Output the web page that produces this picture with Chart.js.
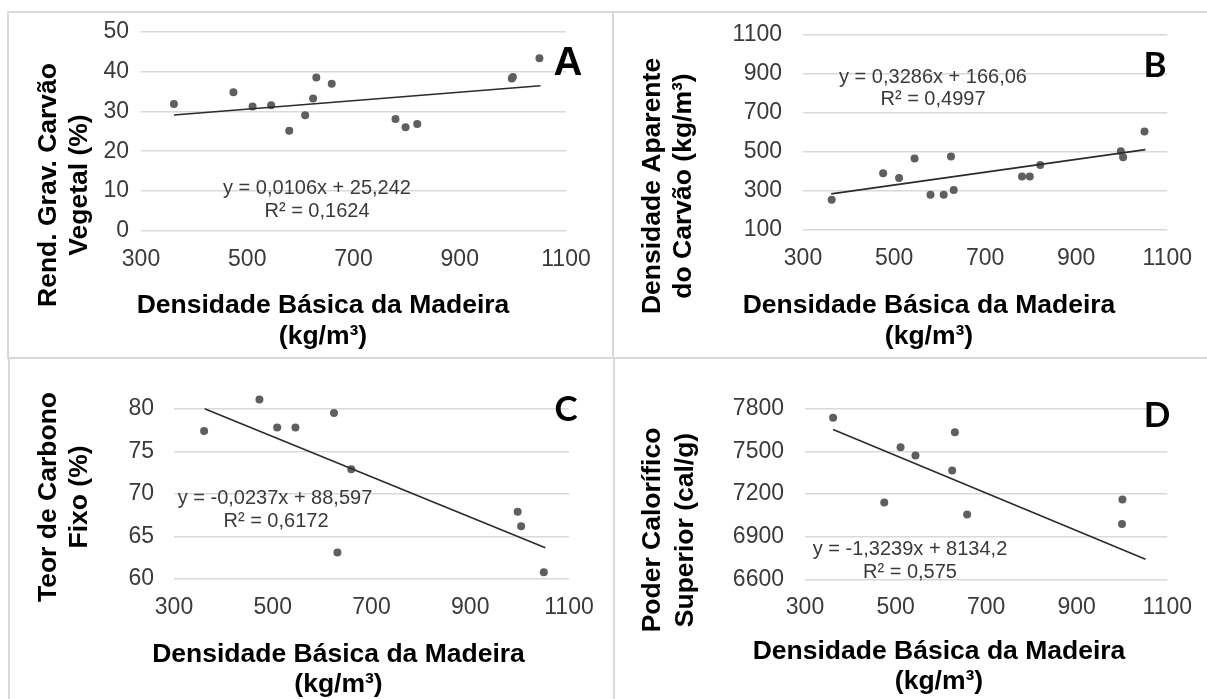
<!DOCTYPE html>
<html>
<head>
<meta charset="utf-8">
<script src="https://cdn.jsdelivr.net/npm/chart.js@4.4.1/dist/chart.umd.min.js"></script>
<style>
  html, body { margin: 0; padding: 0; background: #fff; }
  #page { position: relative; width: 1207px; height: 699px; overflow: hidden; background: #fff; }
  #page canvas { position: absolute; }
  .rule { position: absolute; background: #d9d9d9; }
</style>
</head>
<body>
<div id="page">
  <canvas id="cA" width="612" height="358" style="left:0;top:0"></canvas>
  <canvas id="cB" width="595" height="358" style="left:612px;top:0"></canvas>
  <canvas id="cC" width="612" height="341" style="left:0;top:358px"></canvas>
  <canvas id="cD" width="595" height="341" style="left:612px;top:358px"></canvas>
  <div class="rule" style="left:7px;top:11px;width:1200px;height:2px"></div>
  <div class="rule" style="left:7px;top:11px;width:2px;height:347px"></div>
  <div class="rule" style="left:7px;top:357px;width:1200px;height:2px"></div>
  <div class="rule" style="left:8px;top:358px;width:2px;height:341px"></div>
  <div class="rule" style="left:612px;top:11px;width:2px;height:347px"></div>
  <div class="rule" style="left:613px;top:358px;width:2px;height:341px"></div>
</div>
<script>
// Densidade básica da madeira (kg/m³) and the property measured on each sample
const densA = [362, 474, 510, 545, 579, 609, 624, 630, 659, 779, 798, 820, 998, 1000, 1050];
const rendA = [31.8, 34.8, 31.2, 31.5, 25.1, 29.0, 33.2, 38.5, 36.9, 28.1, 26.0, 26.8, 38.2, 38.6, 43.3];

const densB = [363, 476, 511, 545, 580, 609, 625, 631, 781, 798, 821, 998, 1003, 1050];
const apB = [255, 391, 367, 466, 281, 281, 477, 305, 374, 374, 433, 503, 473, 604];

const densC = [361, 473, 509, 546, 624, 631, 659, 996, 1003, 1049];
const tcfC = [77.4, 81.1, 77.8, 77.8, 79.5, 63.1, 72.9, 67.9, 66.2, 60.8];

const densD = [362, 475, 511, 544, 625, 631, 658, 1001, 1000];
const pcsD = [7739, 7142, 7531, 7472, 7367, 7636, 7057, 7163, 6989];

// Linear fits (y = a·x + b) as printed on each panel
const trendSlopes = [0.0106, 0.3286, -0.0237, -1.3239];
const trendIntercepts = [25.242, 166.06, 88.597, 8134.2];
const trendSpan = [362, 1052];

// Axis ticks
const xTicks = [300, 500, 700, 900, 1100];
const yTicksA = [0, 10, 20, 30, 40, 50];
const yTicksB = [100, 300, 500, 700, 900, 1100];
const yTicksC = [60, 65, 70, 75, 80];
const yTicksD = [6600, 6900, 7200, 7500, 7800];

const TICK_FONT = { family: 'Liberation Sans, Arial, sans-serif', size: 23 };
const TICK_COLOR = '#3a3a3a';
const TITLE_FONT = 'bold 26.5px "Liberation Sans", Arial, sans-serif';
const EQ_FONT = '20px "Liberation Sans", Arial, sans-serif';
const POINT_COLOR = '#5f5f5f';
const plain = v => String(v);

function textLayer(items, ox, oy) {
  return {
    id: 'textLayer',
    afterDraw(chart) {
      const ctx = chart.ctx;
      items.forEach(it => {
        ctx.save();
        ctx.font = it.font;
        ctx.fillStyle = it.color || '#000';
        ctx.textAlign = 'center';
        ctx.textBaseline = 'middle';
        ctx.translate(it.x - ox, it.y - oy);
        if (it.rotate) ctx.rotate(it.rotate);
        ctx.fillText(it.text, 0, 0);
        ctx.restore();
      });
    }
  };
}

function makePanel(p) {
  const pts = p.xs.map((x, i) => ({ x: x, y: p.ys[i] }));
  const a = trendSlopes[p.k], b = trendIntercepts[p.k];
  const trend = trendSpan.map(x => ({ x: x, y: a * x + b }));
  const canvas = document.getElementById(p.id);
  const W = canvas.width, H = canvas.height;
  new Chart(canvas, {
    type: 'scatter',
    data: {
      datasets: [
        { type: 'line', data: trend, borderColor: '#2b2b2b', borderWidth: 1.6,
          pointRadius: 0, fill: false, tension: 0, order: 0 },
        { data: pts, backgroundColor: POINT_COLOR, borderColor: POINT_COLOR,
          pointRadius: 4, pointHoverRadius: 4, borderWidth: 0, order: 1 }
      ]
    },
    options: {
      responsive: false, animation: false, devicePixelRatio: 1,
      events: [],
      layout: { padding: { left: 0, top: p.area.top, right: W - p.area.right, bottom: 0 } },
      plugins: { legend: { display: false }, tooltip: { enabled: false } },
      scales: {
        x: {
          type: 'linear', min: 300, max: 1100,
          afterBuildTicks: s => { s.ticks = xTicks.map(v => ({ value: v })); },
          afterFit: s => { s.height = H - p.area.bottom; },
          grid: { display: false, drawTicks: false }, border: { display: false },
          ticks: { font: TICK_FONT, color: TICK_COLOR, padding: 15, maxRotation: 0, callback: plain }
        },
        y: {
          type: 'linear', min: p.ymin, max: p.ymax,
          afterBuildTicks: s => { s.ticks = p.yTicks.map(v => ({ value: v })); },
          afterFit: s => { s.width = p.area.left; },
          grid: { color: '#d9d9d9', lineWidth: 1.5, drawTicks: false }, border: { display: false },
          ticks: { font: TICK_FONT, color: TICK_COLOR, padding: p.ypad, callback: plain }
        }
      }
    },
    plugins: [textLayer(p.texts, p.ox, p.oy)]
  });
}

const ROT = -Math.PI / 2;
const LETTER_AR = 'bold 40px "Liberation Sans", Arial, sans-serif';
const LETTER_FONT = 'bold 35px Lato, "Open Sans", sans-serif';

function xTitle(cx, y1, y2) {
  return [
    { text: 'Densidade Básica da Madeira', x: cx, y: y1, font: TITLE_FONT },
    { text: '(kg/m³)', x: cx, y: y2, font: TITLE_FONT }
  ];
}
function yTitle(l1, l2, x1, x2, cy) {
  return [
    { text: l1, x: x1, y: cy, font: TITLE_FONT, rotate: ROT },
    { text: l2, x: x2, y: cy, font: TITLE_FONT, rotate: ROT }
  ];
}

makePanel({
  id: 'cA', k: 0, xs: densA, ys: rendA, ymin: 0, ymax: 50, yTicks: yTicksA, ypad: 12,
  ox: 0, oy: 0, area: { left: 141, right: 566, top: 31.5, bottom: 231 },
  texts: [
    { text: 'y = 0,0106x + 25,242', x: 317, y: 188, font: EQ_FONT, color: '#3a3a3a' },
    { text: 'R² = 0,1624', x: 317, y: 211, font: EQ_FONT, color: '#3a3a3a' },
    { text: 'A', x: 568, y: 64, font: LETTER_AR }
  ].concat(yTitle('Rend. Grav. Carvão', 'Vegetal (%)', 49, 80, 185), xTitle(323, 306, 337))
});

makePanel({
  id: 'cB', k: 1, xs: densB, ys: apB, ymin: 100, ymax: 1100, yTicks: yTicksB, ypad: 21,
  ox: 612, oy: 0, area: { left: 191, right: 559, top: 31.7, bottom: 230 },
  texts: [
    { text: 'y = 0,3286x + 166,06', x: 933, y: 77, font: EQ_FONT, color: '#3a3a3a' },
    { text: 'R² = 0,4997', x: 933, y: 99.5, font: EQ_FONT, color: '#3a3a3a' },
    { text: 'B', x: 1155, y: 65.5, font: LETTER_FONT }
  ].concat(yTitle('Densidade Aparente', 'do Carvão (kg/m³)', 653, 684, 186), xTitle(929, 306, 337))
});

makePanel({
  id: 'cC', k: 2, xs: densC, ys: tcfC, ymin: 60, ymax: 82, yTicks: yTicksC, ypad: 20,
  ox: 0, oy: 358, area: { left: 174, right: 569, top: 23, bottom: 221 },
  texts: [
    { text: 'y = -0,0237x + 88,597', x: 275, y: 498, font: EQ_FONT, color: '#3a3a3a' },
    { text: 'R² = 0,6172', x: 276, y: 521.5, font: EQ_FONT, color: '#3a3a3a' },
    { text: 'C', x: 566, y: 410, font: LETTER_FONT }
  ].concat(yTitle('Teor de Carbono', 'Fixo (%)', 49, 80, 497), xTitle(338.5, 655, 685))
});

makePanel({
  id: 'cD', k: 3, xs: densD, ys: pcsD, ymin: 6600, ymax: 7800, yTicks: yTicksD, ypad: 21,
  ox: 612, oy: 358, area: { left: 193, right: 559, top: 51, bottom: 221.3 },
  texts: [
    { text: 'y = -1,3239x + 8134,2', x: 910, y: 549.5, font: EQ_FONT, color: '#3a3a3a' },
    { text: 'R² = 0,575', x: 910, y: 572, font: EQ_FONT, color: '#3a3a3a' },
    { text: 'D', x: 1157, y: 416, font: LETTER_FONT }
  ].concat(yTitle('Poder Calorífico', 'Superior (cal/g)', 653, 686, 530), xTitle(939, 652, 682))
});
</script>
</body>
</html>
